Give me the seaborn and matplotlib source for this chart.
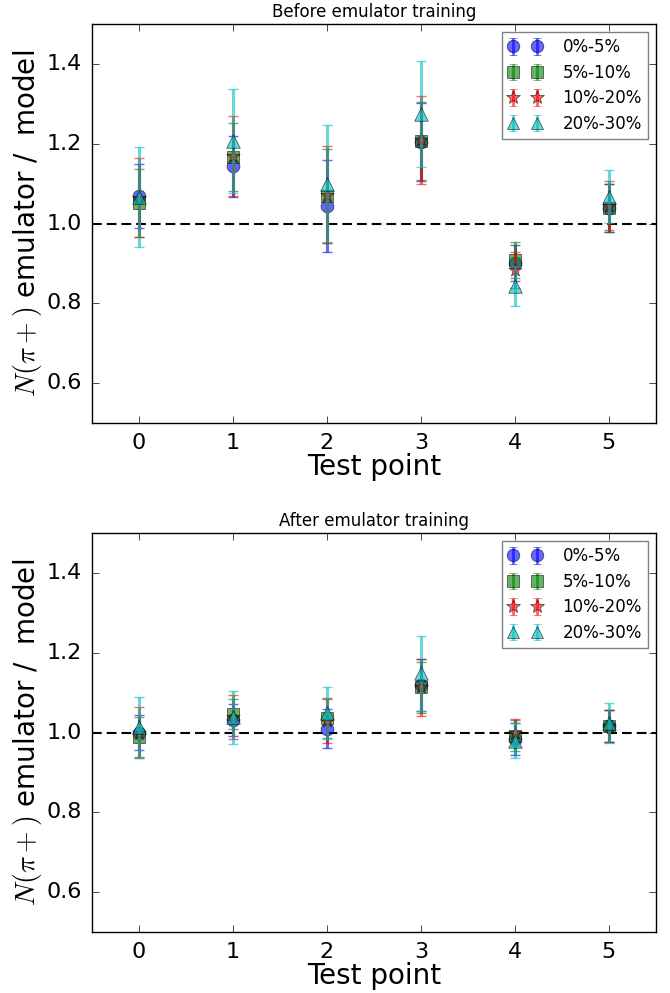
import numpy as np
import pandas as pd
import matplotlib
matplotlib.use("Agg")
import matplotlib.pyplot as plt
import seaborn as sns

plt.style.use("classic")
plt.rcParams["font.family"] = ["DejaVu Sans"]
plt.rcParams["mathtext.fontset"] = "cm"

test_points = [0, 1, 2, 3, 4, 5]
labels = ["0%-5%", "5%-10%", "10%-20%", "20%-30%"]

before_vals = {
    "0%-5%":   [1.070, 1.143, 1.043, 1.205, 0.900, 1.040],
    "5%-10%":  [1.051, 1.167, 1.070, 1.207, 0.9075, 1.040],
    "10%-20%": [1.065, 1.170, 1.0725, 1.210, 0.8825, 1.045],
    "20%-30%": [1.066, 1.2075, 1.100, 1.274, 0.8425, 1.0675],
}
before_errs = {
    "0%-5%":   [0.080, 0.077, 0.115, 0.098, 0.045, 0.060],
    "5%-10%":  [0.086, 0.086, 0.118, 0.098, 0.045, 0.060],
    "10%-20%": [0.100, 0.100, 0.122, 0.110, 0.045, 0.062],
    "20%-30%": [0.126, 0.130, 0.147, 0.133, 0.050, 0.067],
}
after_vals = {
    "0%-5%":   [1.000, 1.032, 1.010, 1.120, 0.983, 1.0175],
    "5%-10%":  [0.988, 1.047, 1.037, 1.113, 0.9925, 1.0175],
    "10%-20%": [1.000, 1.040, 1.030, 1.113, 1.000, 1.017],
    "20%-30%": [1.013, 1.038, 1.050, 1.148, 0.980, 1.023],
}
after_errs = {
    "0%-5%":   [0.045, 0.040, 0.050, 0.065, 0.040, 0.040],
    "5%-10%":  [0.050, 0.037, 0.050, 0.065, 0.040, 0.040],
    "10%-20%": [0.063, 0.055, 0.055, 0.072, 0.033, 0.040],
    "20%-30%": [0.077, 0.067, 0.065, 0.093, 0.045, 0.050],
}

colors = {"0%-5%": "b", "5%-10%": "g", "10%-20%": "r", "20%-30%": "c"}
markers = {"0%-5%": "o", "5%-10%": "s", "10%-20%": "*", "20%-30%": "^"}
sizes = {"0%-5%": 85, "5%-10%": 85, "10%-20%": 100, "20%-30%": 95}

fig = plt.figure(figsize=(6.7, 9.93), dpi=100, facecolor="white")
ax1 = fig.add_axes([0.137, 0.574, 0.842, 0.4018])
ax2 = fig.add_axes([0.137, 0.0614, 0.842, 0.4018])

def draw(ax, vals, errs, title):
    handles = []
    for i, lab in enumerate(labels):
        df = pd.DataFrame({"point": test_points, "ratio": vals[lab], "err": errs[lab]})
        ax.errorbar(df["point"], df["ratio"], yerr=df["err"], fmt="none",
                    ecolor=colors[lab], elinewidth=2.2, capsize=3.5, capthick=1,
                    alpha=0.6, zorder=2 + 2 * i)
        sns.scatterplot(data=df, x="point", y="ratio", marker=markers[lab],
                        color=colors[lab], s=sizes[lab], alpha=0.6,
                        edgecolor="k", linewidth=0.6, ax=ax, legend=False,
                        zorder=3 + 2 * i)
        h = ax.errorbar([np.nan], [np.nan], yerr=[np.nan], fmt=markers[lab],
                        color=colors[lab], ecolor=colors[lab], elinewidth=2,
                        capsize=3, capthick=1, alpha=0.6, ms=9 if lab != "10%-20%" else 10,
                        mec="k", mew=0.6, label=lab)
        handles.append(h)
    ax.axhline(1.0, color="k", ls="--", lw=1.5, dashes=(7, 3.6), zorder=1)
    ax.set_xlim(-0.5, 5.5)
    ax.set_ylim(0.5, 1.5)
    ax.set_xticks(test_points)
    ax.set_yticks([0.6, 0.8, 1.0, 1.2, 1.4])
    ax.tick_params(labelsize=16, direction="in", top=True, right=True, length=5, pad=7)
    ax.set_xlabel("Test point", fontsize=20, labelpad=0)
    ax.set_ylabel(r"$N(\pi+)$ emulator /  model", fontsize=20, labelpad=2)
    ax.set_title(title, fontsize=12)
    leg = ax.legend(handles=handles, labels=labels, loc="upper right",
                    numpoints=2, fontsize=12, fancybox=False, frameon=True,
                    handletextpad=1.25, borderpad=0.35, labelspacing=0.45)
    leg.get_frame().set_edgecolor("0.5")

draw(ax1, before_vals, before_errs, "Before emulator training")
draw(ax2, after_vals, after_errs, "After emulator training")

fig.savefig("out.png", dpi=100, facecolor="white")
